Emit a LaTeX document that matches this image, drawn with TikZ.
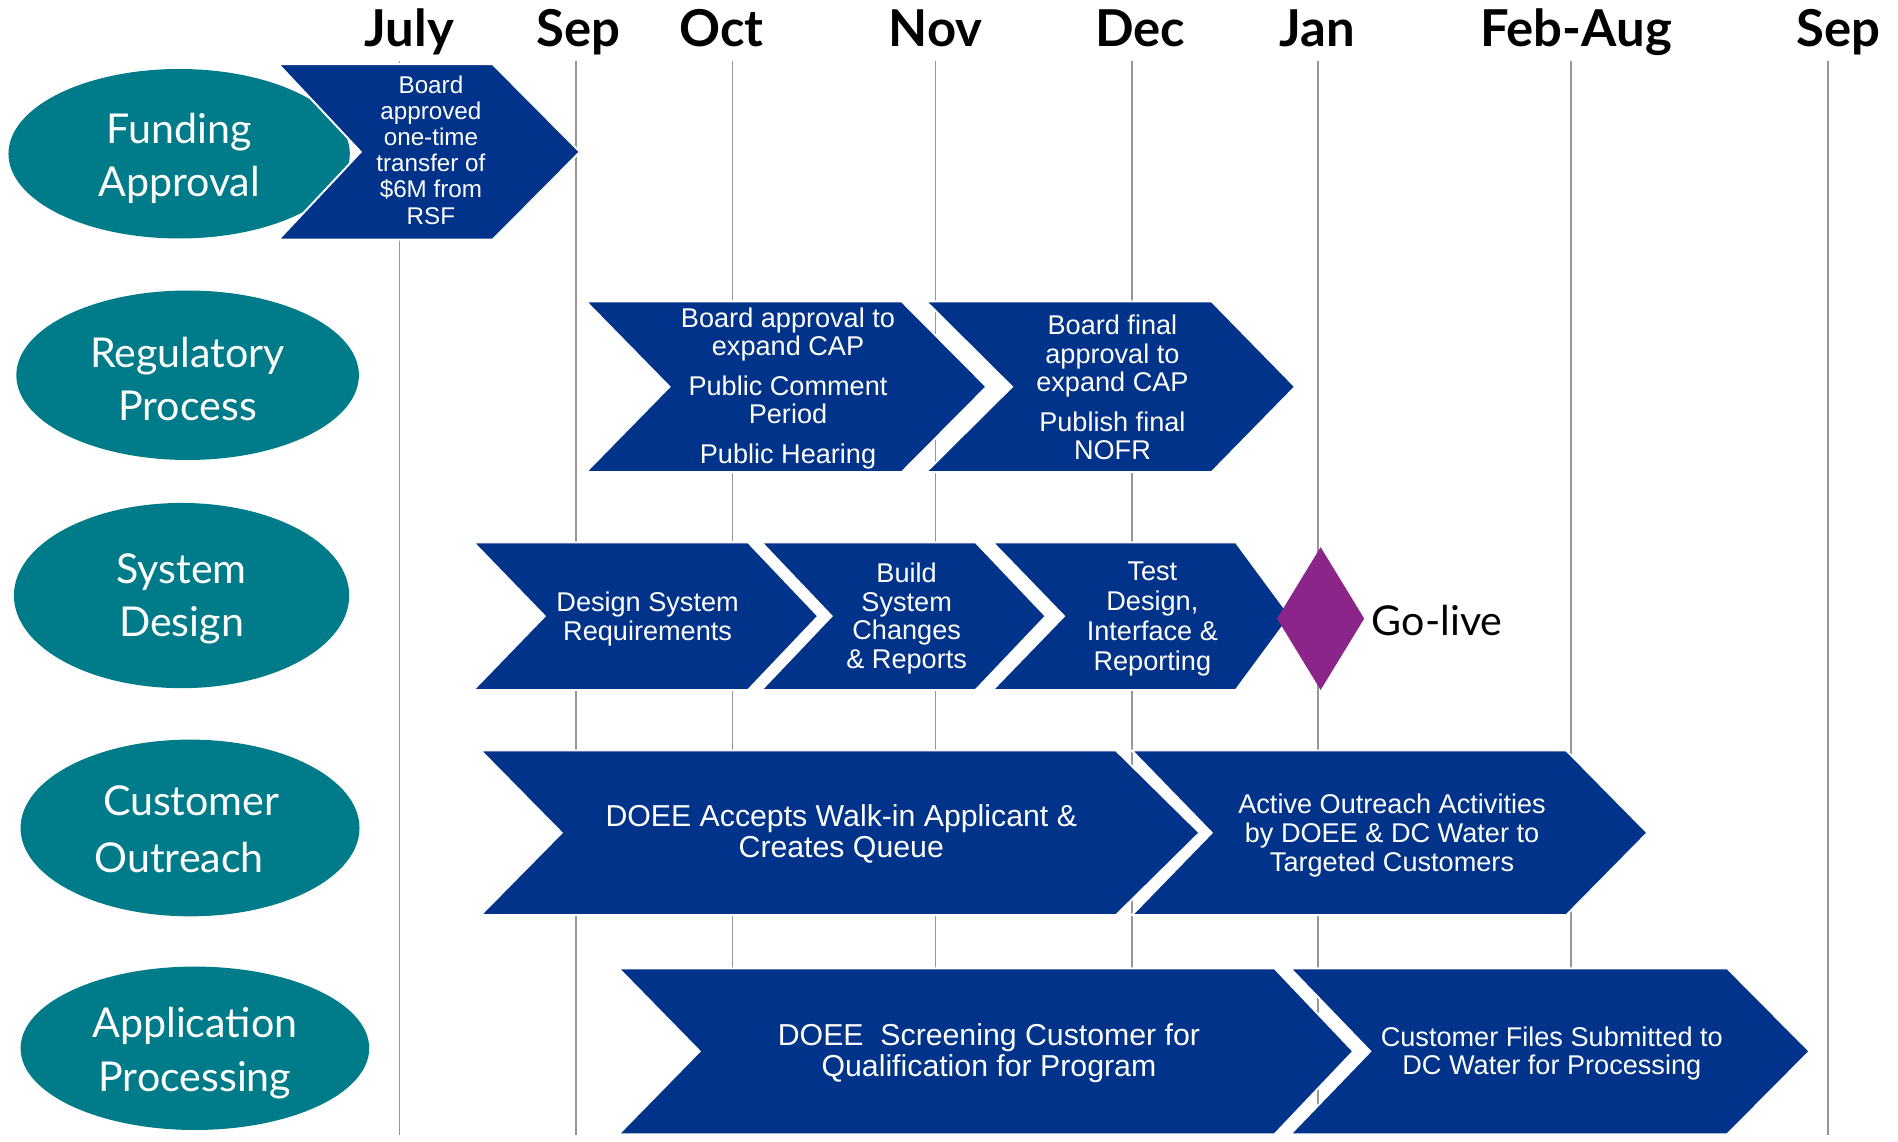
\documentclass[tikz,border=0pt]{standalone}
\usepackage{fontspec}
\setmainfont{Liberation Sans}
\newfontfamily\gill{Lato}
\usetikzlibrary{shapes.geometric}
\definecolor{ovalc}{RGB}{0,123,138}
\definecolor{chevc}{RGB}{0,51,137}
\definecolor{golivec}{RGB}{139,37,137}
\definecolor{gridc}{RGB}{150,150,150}
\tikzset{
  oval/.style={ellipse, fill=ovalc, inner sep=0pt},
  ovaltxt/.style={text=white, inner sep=0pt, align=center,
    font=\gill\fontsize{17}{22}\selectfont},
  chevstyle/.style={fill=chevc, draw=white, line width=0.8pt, line join=miter},
  chevtxt/.style={text=white, align=center, inner sep=0pt},
  month/.style={anchor=base, font=\gill\bfseries\fontsize{21}{21}\selectfont},
  gridline/.style={draw=gridc, line width=0.6pt},
}
% drawing helper: left x, notch x, top-right x, tip x, top y, bottom y
\newcommand\mychev[6]{%
  \path[chevstyle] (#1,#5) -- (#3,#5) -- (#4,{(#5+#6)/2}) -- (#3,#6) -- (#1,#6) -- (#2,{(#5+#6)/2}) -- cycle;}
\begin{document}
\begin{tikzpicture}[x=0.5pt,y=-0.5pt]
\useasboundingbox (0,0) rectangle (1568,943);
\fill[white] (0,0) rectangle (1568,943);
% month labels
\node[month] (mJul) at (338,38) {July};
\node[month] (mSep) at (478,38) {Sep};
\node[month] (mOct) at (596,38) {Oct};
\node[month] (mNov) at (773,38) {Nov};
\node[month] (mDec) at (942,38) {Dec};
\node[month] (mJan) at (1088,38) {Jan};
\node[month] (mFeb) at (1302,38) {Feb-Aug};
\node[month] (mSep2) at (1519,38) {Sep};
% grid lines
\foreach \gx in {330,476,605,773,935,1089,1298,1510}
  \draw[gridline] (\gx,50) -- (\gx,938);
% ellipses
\node[oval, minimum width=141pt, minimum height=70pt] (eFund) at (148,127) {};
\node[oval, minimum width=141.5pt, minimum height=70pt] (eReg) at (155,310) {};
\node[oval, minimum width=138.5pt, minimum height=76.5pt] (eSys) at (150,492) {};
\node[oval, minimum width=140pt, minimum height=73pt] (eCust) at (157,684) {};
\node[oval, minimum width=144pt, minimum height=67.5pt] (eApp) at (161,866) {};
\node[ovaltxt] (lFund) at (148,131) {Funding\\Approval};
\node[ovaltxt] (lReg) at (155,313) {Regulatory\\Process};
\node[ovaltxt] (lSys) at (150,495) {System\\Design};
\node[ovaltxt, font=\gill\fontsize{17}{23.5}\selectfont] (lCust) at (148,685) {\hspace*{10pt}Customer\\Outreach};
\node[ovaltxt] (lApp) at (161,870) {Application\\Processing};
% chevrons
\mychev{230}{298}{407}{479}{53}{198}
\mychev{484}{553}{745}{815}{249}{390}
\mychev{765}{836}{1001}{1070}{249}{390}
\mychev{391}{450}{618}{676}{448}{570}
\mychev{629}{687}{806}{864}{448}{570}
\mychev{820}{879}{1021}{1066}{448}{570}
\mychev{397}{464}{922}{991}{620}{756}
\mychev{935}{1001}{1294}{1361}{620}{756}
\mychev{511}{578}{1053}{1118}{800}{937}
\mychev{1066}{1132}{1427}{1495}{800}{937}
% go-live diamond
\fill[golivec] (1091,452) -- (1127,511) -- (1091,570) -- (1055,511) -- cycle;
\node[anchor=west, inner sep=0pt, font=\gill\fontsize{17}{20}\selectfont] (golive) at (1133,513) {Go-live};
% chevron texts
\node[chevtxt, font=\fontsize{10}{10.8}\selectfont] (tFund) at (356,124) {Board\\approved\\one-time\\transfer of\\\$6M from\\RSF};
\node[chevtxt, font=\fontsize{11.2}{11.5}\selectfont] (tReg1) at (651,321) {Board approval to\\expand CAP\\[5pt]Public Comment\\Period\\[5pt]Public Hearing};
\node[chevtxt, font=\fontsize{11.2}{11.8}\selectfont] (tReg2) at (919,320) {Board final\\approval to\\expand CAP\\[4.5pt]Publish final\\NOFR};
\node[chevtxt, font=\fontsize{11.2}{12}\selectfont] (tSys1) at (535,511) {Design System\\Requirements};
\node[chevtxt, font=\fontsize{11.2}{11.8}\selectfont] (tSys2) at (749,511) {Build\\System\\Changes\\\& Reports};
\node[chevtxt, font=\fontsize{11.2}{12.4}\selectfont] (tSys3) at (952,511) {Test\\Design,\\Interface \&\\Reporting};
\node[chevtxt, font=\fontsize{12.5}{13}\selectfont] (tCust1) at (695,689) {DOEE Accepts Walk-in Applicant \&\\Creates Queue};
\node[chevtxt, font=\fontsize{11.2}{12}\selectfont] (tCust2) at (1150,690) {Active Outreach Activities\\by DOEE \& DC Water to\\Targeted Customers};
\node[chevtxt, font=\fontsize{12.5}{13}\selectfont] (tApp1) at (817,870) {DOEE\ \ Screening Customer for\\Qualification for Program};
\node[chevtxt, font=\fontsize{11.2}{11.5}\selectfont] (tApp2) at (1282,870) {Customer Files Submitted to\\DC Water for Processing};
\end{tikzpicture}
\end{document}
